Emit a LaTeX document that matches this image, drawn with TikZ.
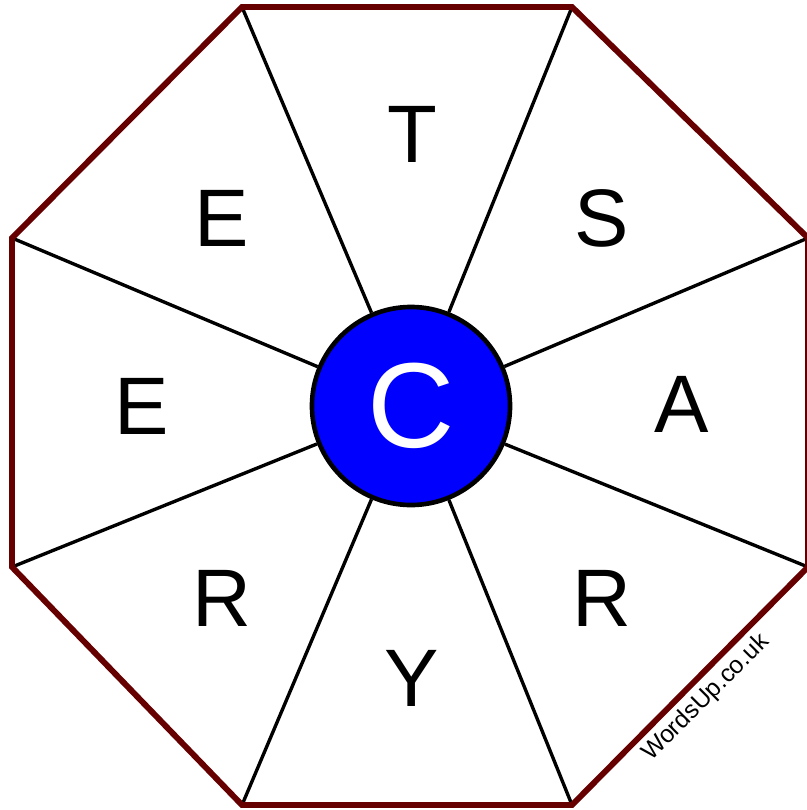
\documentclass[tikz,border=0pt]{standalone}
\usepackage{fontspec}
\setmainfont{Liberation Sans}
\usepackage{xcolor}
\usepackage{tikz}
\usetikzlibrary{positioning}

\definecolor{rimred}{RGB}{102,0,0}
\definecolor{hubblue}{RGB}{0,0,255}

\begin{document}
\begin{tikzpicture}[
    x=0.025cm, y=-0.025cm,
    rim/.style={draw=rimred, line width=4.2pt, line join=miter},
    spoke/.style={draw, line width=2.4pt},
    hub/.style={circle, draw, line width=3.3pt, fill=hubblue,
                minimum size=4.95cm, inner sep=0pt,
                text=white, font=\fontsize{86}{86}\selectfont},
    ltr/.style={inner sep=0pt, font=\fontsize{58}{58}\selectfont},
    tag/.style={inner sep=0pt, rotate=45, font=\fontsize{17.5}{17.5}\selectfont},
  ]

  \useasboundingbox (0,0) rectangle (807,810);

  % -- Octagon corners
  \coordinate (v1) at (242, 7);
  \coordinate (v2) at (572, 7);
  \coordinate (v3) at (808, 238);
  \coordinate (v4) at (808, 567);
  \coordinate (v5) at (572, 805);
  \coordinate (v6) at (242, 805);
  \coordinate (v7) at (12, 567);
  \coordinate (v8) at (12, 238);

  % -- Centre letter
  \node[hub] (hub) at (411, 406) {C};

  % -- Spokes
  \draw[spoke] (v1) -- (hub);
  \draw[spoke] (v2) -- (hub);
  \draw[spoke] (v3) -- (hub);
  \draw[spoke] (v4) -- (hub);
  \draw[spoke] (v5) -- (hub);
  \draw[spoke] (v6) -- (hub);
  \draw[spoke] (v7) -- (hub);
  \draw[spoke] (v8) -- (hub);

  % -- Rim
  \draw[rim] (v1) -- (v2) -- (v3) -- (v4) -- (v5) -- (v6) -- (v7) -- (v8) -- cycle;

  % -- Outer letters
  \node[ltr] (lt)  at (412, 134) {T};
  \node[ltr] (ls)  at (602, 218) {S};
  \node[ltr] (la)  at (682, 404) {A};
  \node[ltr] (lr1) at (602, 598) {R};
  \node[ltr] (ly)  at (412, 678) {Y};
  \node[ltr] (lr2) at (222, 598) {R};
  \node[ltr] (le1) at (142, 406) {E};
  \node[ltr] (le2) at (222, 218) {E};

  % -- Site tag
  \node[tag] (site) at (706, 698) {WordsUp.co.uk};

\end{tikzpicture}
\end{document}
